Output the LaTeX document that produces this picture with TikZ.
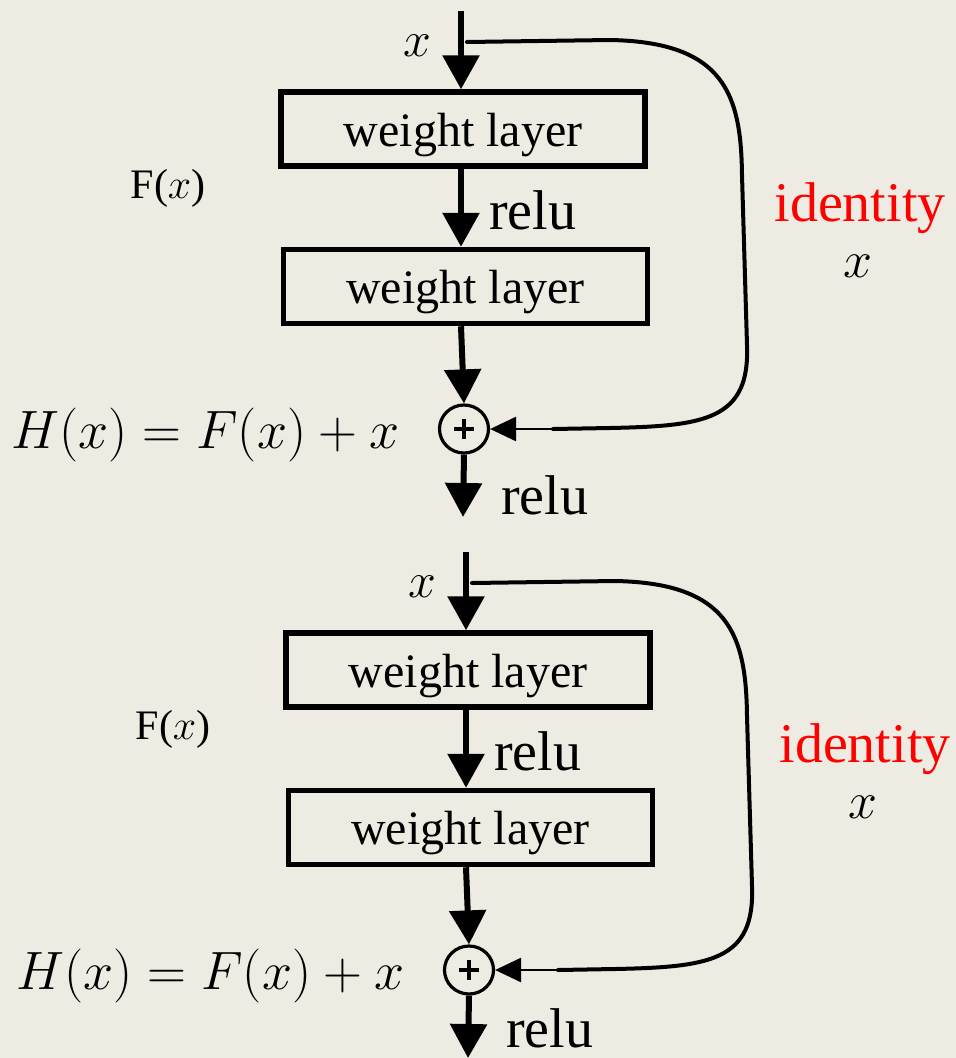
\RequirePackage{fix-cm}
\documentclass[tikz,border=0pt]{standalone}
\usepackage{fontspec}
\setmainfont{Liberation Serif}
\usetikzlibrary{arrows.meta,shapes.geometric}
\definecolor{paper}{RGB}{238,235,227}
\definecolor{idred}{RGB}{255,0,0}
\tikzset{
  layerbox/.style={draw, line width=5.5pt, minimum width=364pt, minimum height=74pt, inner sep=0pt},
  boxtext/.style={inner sep=0pt, font=\fontsize{48}{48}\selectfont},
  flow/.style={line width=6pt, -{Triangle[width=36pt,length=34pt]}},
  adder/.style={draw, ellipse, line width=3.2pt, minimum width=49pt, minimum height=48pt, inner sep=0pt},
  skip/.style={line width=4pt, line cap=round},
  skiptip/.style={line width=2.8pt, -{Triangle[width=24pt,length=26pt]}},
  lbl/.style={inner sep=0pt},
}
\begin{document}
\begin{tikzpicture}[x=1pt,y=-1pt]
\fill[paper] (0,0) rectangle (956,1058);
\useasboundingbox (0,0) rectangle (956,1058);
\foreach \k/\dx/\dy in {a/0/0, b/5/541}{
\begin{scope}[shift={(\dx,\dy)}]
  % residual block: two weight layers and the adder
  \coordinate (in-\k) at (461,11);
  \coordinate (out-\k) at (463,517);
  \node[layerbox] (w1-\k) at (463,129) {};
  \node[layerbox] (w2-\k) at (465.5,286.5) {};
  \node[boxtext] (t1-\k) at ([yshift=-6pt]w1-\k.center) {weight layer};
  \node[boxtext] (t2-\k) at ([yshift=-6pt]w2-\k.center) {weight layer};
  \node[adder] (sum-\k) at (464,429) {};
  \draw[line width=4.5pt] ([xshift=-10pt]sum-\k.center) -- ([xshift=10pt]sum-\k.center)
    ([yshift=-10pt]sum-\k.center) -- ([yshift=10pt]sum-\k.center);
  % main path
  \draw[flow] (in-\k) -- (in-\k |- w1-\k.north);
  \draw[flow] (in-\k |- w1-\k.south) -- (in-\k |- w2-\k.north);
  \draw[flow] (in-\k |- w2-\k.south) -- (sum-\k.north);
  \draw[flow] (sum-\k.south) -- (out-\k);
  % identity shortcut
  \coordinate (s0-\k) at (467,42);
  \coordinate (s1-\k) at (553,429);
  \draw[skip] (s0-\k) -- (610,40) .. controls (725,42) and (741,95) .. (742,175)
    -- (747,345) .. controls (750,420) and (705,426) .. (610,428) -- (s1-\k);
  \draw[skiptip] (s1-\k |- sum-\k.east) -- (sum-\k.east);
  % labels
  \node[lbl, font=\fontsize{50}{50}\selectfont] (xin-\k) at (417,46) {$x$};
  \node[lbl, font=\fontsize{42}{42}\selectfont] (fx-\k) at (168,188) {F($x$)};
  \node[lbl, font=\fontsize{56}{56}\selectfont, anchor=west] (r1-\k) at (489,210) {relu};
  \node[lbl, font=\fontsize{54}{54}\selectfont, anchor=west] (hx-\k) at (11,435) {$H(x) = F(x) + x$};
  \node[lbl, font=\fontsize{56}{56}\selectfont, text=idred] (id-\k) at (860,208) {identity};
  \node[lbl, font=\fontsize{52}{52}\selectfont] (idx-\k) at (858,266) {$x$};
\end{scope}
}
% output labels below each adder
\node[lbl, font=\fontsize{56}{56}\selectfont, anchor=west] (r2-a) at (501,495) {relu};
\node[lbl, font=\fontsize{56}{56}\selectfont, anchor=west] (r2-b) at (506,1028) {relu};
\end{tikzpicture}
\end{document}
